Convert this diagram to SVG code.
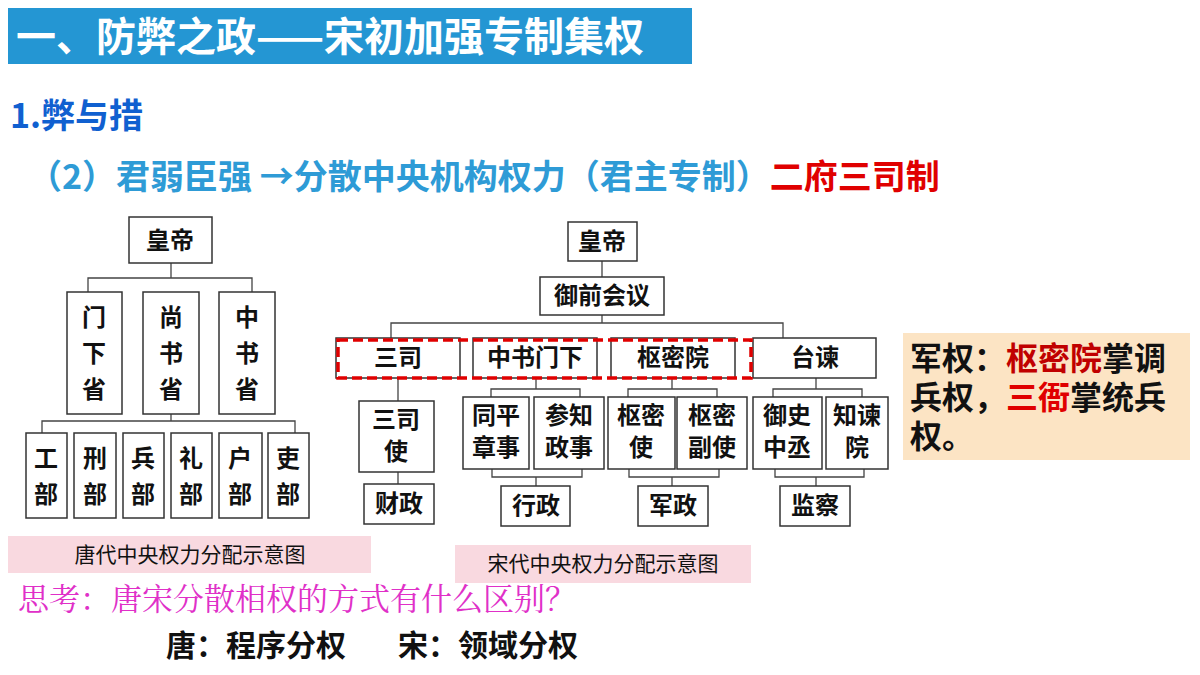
<svg xmlns="http://www.w3.org/2000/svg" width="1200" height="675" viewBox="0 0 1200 675">
<style>
.b{fill:#fff;stroke:#333;stroke-width:1.5}
.t{font-family:"Noto Sans CJK SC",sans-serif;font-size:24px;font-weight:bold;fill:#111;text-anchor:middle}
.c{fill:none;stroke:#444;stroke-width:1.3}
.h{font-family:"Noto Sans CJK SC",sans-serif;font-weight:bold}
</style>
<rect width="1200" height="675" fill="#fff"/>
<rect x="8" y="8" width="684" height="56" fill="#2496D3"/>
<text x="16" y="51" class="h" font-size="40" fill="#fff">一、防弊之政——宋初加强专制集权</text>
<text x="10" y="128" class="h" font-size="34" fill="#1060D0">1.弊与措</text>
<text x="28" y="189" class="h" font-size="34" fill="#2E9BD6">（2）君弱臣强 →分散中央机构权力（君主专制）<tspan fill="#E00000">二府三司制</tspan></text>
<g id="connectors">
<path class="c" d="M171 263V278M88 292V278H252V292M171 414V421M42 433V421H295V433"/>
<path class="c" d="M602 261V277M602 315V323M391 338V323H783V338M398 378V401M398 472V484M536 378V389M491 397V389H580V397M492 469V477H582V469M536 477V486M672 378V389M628 397V389H717V397M629 469V477H719V469M672 477V486M816 378V389M773 397V389H862V397M775 469V477H864V469M816 477V486"/>
</g>
<g id="tang_emperor"><rect class="b" x="129" y="217" width="83" height="46"/><text class="t" x="170" y="249">皇帝</text></g>
<g id="menxia"><rect class="b" x="67" y="292" width="55" height="122"/><text class="t" x="94" y="326">门</text><text class="t" x="94" y="362">下</text><text class="t" x="94" y="398">省</text></g>
<g id="shangshu"><rect class="b" x="143" y="292" width="56" height="122"/><text class="t" x="171" y="326">尚</text><text class="t" x="171" y="362">书</text><text class="t" x="171" y="398">省</text></g>
<g id="zhongshu"><rect class="b" x="219" y="292" width="56" height="122"/><text class="t" x="247" y="326">中</text><text class="t" x="247" y="362">书</text><text class="t" x="247" y="398">省</text></g>
<g id="gongbu"><rect class="b" x="26" y="433" width="41" height="85"/><text class="t" x="46" y="467">工</text><text class="t" x="46" y="503">部</text></g>
<g id="xingbu"><rect class="b" x="74" y="433" width="42" height="85"/><text class="t" x="95" y="467">刑</text><text class="t" x="95" y="503">部</text></g>
<g id="bingbu"><rect class="b" x="123" y="433" width="41" height="85"/><text class="t" x="143" y="467">兵</text><text class="t" x="143" y="503">部</text></g>
<g id="libu"><rect class="b" x="171" y="433" width="41" height="85"/><text class="t" x="191" y="467">礼</text><text class="t" x="191" y="503">部</text></g>
<g id="hubu"><rect class="b" x="219" y="433" width="43" height="85"/><text class="t" x="240" y="467">户</text><text class="t" x="240" y="503">部</text></g>
<g id="libu2"><rect class="b" x="268" y="433" width="41" height="85"/><text class="t" x="288" y="467">吏</text><text class="t" x="288" y="503">部</text></g>
<g id="song_emperor"><rect class="b" x="568" y="222" width="69" height="39"/><text class="t" x="602" y="250">皇帝</text></g>
<g id="yuqian"><rect class="b" x="540" y="277" width="124" height="38"/><text class="t" x="602" y="304">御前会议</text></g>
<g id="sansi"><rect class="b" x="336" y="338" width="124" height="40"/><text class="t" x="398" y="366">三司</text></g>
<g id="zsmx"><rect class="b" x="473" y="338" width="124" height="40"/><text class="t" x="535" y="366">中书门下</text></g>
<g id="shumi"><rect class="b" x="611" y="338" width="124" height="40"/><text class="t" x="673" y="366">枢密院</text></g>
<g id="taijian"><rect class="b" x="753" y="338" width="123" height="40"/><text class="t" x="815" y="366">台谏</text></g>
<rect x="338" y="340" width="413" height="38" fill="none" stroke="#E00000" stroke-width="3.5" stroke-dasharray="10,5"/>
<g id="sansishi"><rect class="b" x="359" y="401" width="75" height="71"/><text class="t" x="396" y="428">三司</text><text class="t" x="396" y="460">使</text></g>
<g id="caizheng"><rect class="b" x="364" y="484" width="70" height="40"/><text class="t" x="399" y="512">财政</text></g>
<g id="tongping"><rect class="b" x="463" y="397" width="66" height="72"/><text class="t" x="496" y="424">同平</text><text class="t" x="496" y="456">章事</text></g>
<g id="canzhi"><rect class="b" x="534" y="397" width="70" height="72"/><text class="t" x="569" y="424">参知</text><text class="t" x="569" y="456">政事</text></g>
<g id="xingzheng"><rect class="b" x="501" y="486" width="69" height="40"/><text class="t" x="536" y="514">行政</text></g>
<g id="shumishi"><rect class="b" x="608" y="397" width="67" height="72"/><text class="t" x="641" y="424">枢密</text><text class="t" x="641" y="456">使</text></g>
<g id="shumifu"><rect class="b" x="677" y="397" width="70" height="72"/><text class="t" x="712" y="424">枢密</text><text class="t" x="712" y="456">副使</text></g>
<g id="junzheng"><rect class="b" x="638" y="486" width="70" height="40"/><text class="t" x="673" y="514">军政</text></g>
<g id="yushi"><rect class="b" x="753" y="397" width="69" height="72"/><text class="t" x="787" y="424">御史</text><text class="t" x="787" y="456">中丞</text></g>
<g id="zhijian"><rect class="b" x="826" y="397" width="62" height="72"/><text class="t" x="857" y="424">知谏</text><text class="t" x="857" y="456">院</text></g>
<g id="jiancha"><rect class="b" x="780" y="486" width="70" height="40"/><text class="t" x="815" y="514">监察</text></g>
<g id="note"><rect x="903" y="333" width="287" height="127" fill="#FCE4C4"/>
<text x="910" y="370" class="h" font-size="32" fill="#111">军权：<tspan fill="#C00000">枢密院</tspan>掌调</text>
<text x="910" y="409" class="h" font-size="32" fill="#111">兵权，<tspan fill="#E00000">三衙</tspan>掌统兵</text>
<text x="910" y="448" class="h" font-size="32" fill="#111">权。</text></g>
<rect x="8" y="536" width="363" height="37" fill="#F9D9E0"/>
<text x="190" y="562" font-family="Noto Sans CJK SC,sans-serif" font-size="21" text-anchor="middle" fill="#111">唐代中央权力分配示意图</text>
<rect x="455" y="545" width="296" height="38" fill="#F9D9E0"/>
<text x="603" y="571" font-family="Noto Sans CJK SC,sans-serif" font-size="21" text-anchor="middle" fill="#111">宋代中央权力分配示意图</text>
<text x="18" y="610" font-family="Noto Serif CJK SC,Noto Sans CJK SC,serif" font-size="31" fill="#E030C8">思考：唐宋分散相权的方式有什么区别？</text>
<text x="166" y="656" class="h" font-size="30" fill="#111">唐：程序分权</text>
<text x="398" y="656" class="h" font-size="30" fill="#111">宋：领域分权</text>
</svg>
